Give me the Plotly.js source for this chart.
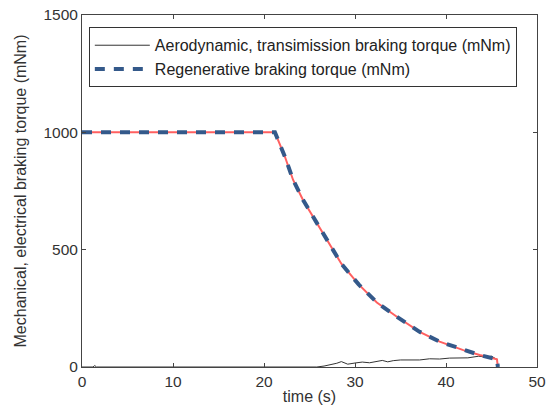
<!DOCTYPE html>
<html>
<head>
<meta charset="utf-8">
<script src="https://cdn.plot.ly/plotly-3.0.1.min.js"></script>
<style>html,body{margin:0;padding:0;background:#fff;}#chart{width:551px;height:414px;}</style>
</head>
<body>
<div id="chart"></div>
<script>
// Regenerative braking torque (mNm)
const regenTime = [0, 5, 10, 15, 20, 21.2, 22.3, 23.2, 24.3, 25.6, 27.1, 28.5, 30.4, 32.4, 34.6, 37.1, 39.3, 41.9, 43.7, 45.6, 45.7];
const regenTorque = [1000, 1000, 1000, 1000, 1000, 1000, 896, 797, 711, 626, 527, 440, 352, 275, 214, 150, 108, 72, 51, 33, 0];
// Aerodynamic, transmission braking torque (mNm)
const aeroTime = [0, 1.2, 1.4, 1.6, 10, 20, 25.8, 26.6, 27.4, 28.0, 28.5, 29.2, 30.0, 30.8, 31.6, 32.4, 33.0, 33.6, 34.2, 35.0, 36.0, 37.1, 38.2, 39.3, 40.4, 41.4, 42.4, 43.6, 44.4, 45.0, 45.7];
const aeroTorque = [0, 0, 6, 0, 0, 0, 0, 4, 10, 16, 23, 12, 17, 21, 18, 24, 28, 22, 27, 30, 31, 30, 35, 34, 38, 40, 39, 46, 42, 46, 30];

const xTicks = [0, 10, 20, 30, 40, 50];
const yTicks = [0, 500, 1000, 1500];

const FONT = 'Liberation Sans, Arial, sans-serif';

const traces = [
  {x: aeroTime, y: aeroTorque, type: 'scatter', mode: 'lines',
   name: 'Aerodynamic, transimission braking torque (mNm)',
   line: {color: '#333333', width: 1}},
  {x: regenTime, y: regenTorque, type: 'scatter', mode: 'lines',
   name: 'Regenerative red', showlegend: false,
   line: {color: '#ff6060', width: 2}},
  {x: regenTime, y: regenTorque, type: 'scatter', mode: 'lines',
   name: 'Regenerative braking torque (mNm)',
   line: {color: '#34598a', width: 4, dash: '10px,9px'}}
];

const axisCommon = {
  showgrid: false, zeroline: false, showline: true, linecolor: '#444', linewidth: 1,
  ticks: 'inside', ticklen: 4, tickcolor: '#444', mirror: 'ticks',
  tickfont: {family: FONT, size: 15.5, color: '#333'}
};

const layout = {
  width: 551, height: 414,
  margin: {l: 82, r: 14, t: 15, b: 47},
  paper_bgcolor: '#fff', plot_bgcolor: '#fff',
  font: {family: FONT, size: 16, color: '#333'},
  xaxis: Object.assign({}, axisCommon, {
    range: [0, 50], tickvals: xTicks, ticktext: xTicks.map(String),
    title: {text: 'time (s)', font: {size: 16, color: '#333'}, standoff: 2}
  }),
  yaxis: Object.assign({}, axisCommon, {
    range: [0, 1500], tickvals: yTicks, ticktext: yTicks.map(String),
    title: {text: 'Mechanical, electrical braking torque (mNm)', font: {size: 16, color: '#333'}, standoff: 12}
  }),
  legend: {
    x: 0.015, y: 0.965, xanchor: 'left', yanchor: 'top',
    bgcolor: '#fff', bordercolor: '#333', borderwidth: 1,
    font: {family: FONT, size: 16, color: '#222'}, tracegroupgap: 0,
    itemwidth: 55
  },
  showlegend: true
};

Plotly.newPlot('chart', traces, layout, {staticPlot: true, displayModeBar: false});
</script>
</body>
</html>
